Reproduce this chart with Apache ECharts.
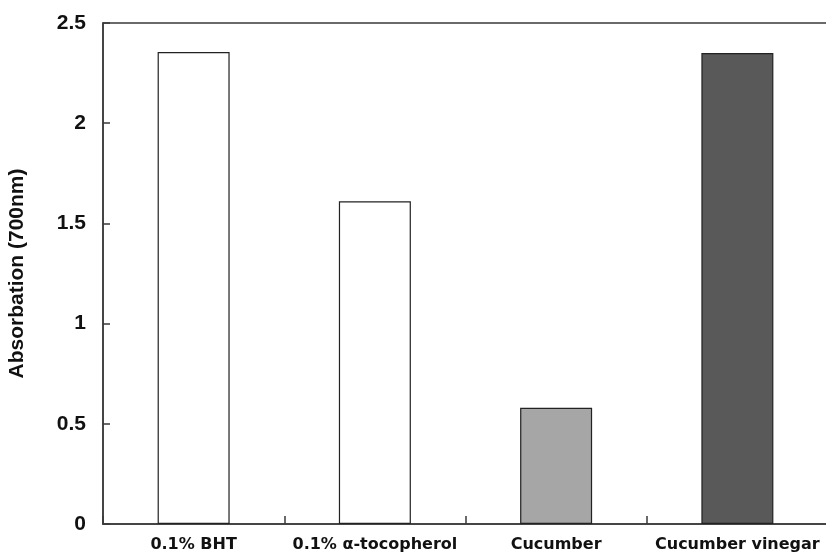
<!DOCTYPE html>
<html>
<head>
<meta charset="utf-8">
<script src="https://cdn.jsdelivr.net/npm/echarts@6/dist/echarts.min.js"></script>
<style>
    html, body { margin: 0; padding: 0; background: #fff; }
    #chart { width: 826px; height: 560px; }
</style>
</head>
<body>
<div id="chart"></div>
<script>
// data
const categories = ['0.1% BHT', '0.1% α-tocopherol', 'Cucumber', 'Cucumber vinegar'];
const absorbance = [2.355, 1.61, 0.58, 2.35];
const barColors = ['#ffffff', '#ffffff', '#a6a6a6', '#595959'];
const yTicks = [0, 0.5, 1, 1.5, 2, 2.5];

const axisColor = '#3a3a3a';

const chart = echarts.init(document.getElementById('chart'));

const option = {
    animation: false,
    backgroundColor: '#fff',
    grid: {
        left: 103,
        right: -2,
        top: 23,
        bottom: 36,
        show: true,
        borderColor: axisColor,
        borderWidth: 1.5,
        outerBoundsMode: 'none'
    },
    xAxis: {
        type: 'category',
        data: categories,
        axisLine: { lineStyle: { color: axisColor, width: 1.5 } },
        axisTick: { show: true, inside: true, length: 8, lineStyle: { color: axisColor, width: 1.5 } },
        axisLabel: {
            color: '#111',
            fontFamily: 'DejaVu Sans',
            fontWeight: 'bold',
            fontSize: 16,
            margin: 13,
            interval: 0
        },
        splitLine: { show: false }
    },
    yAxis: {
        type: 'value',
        min: yTicks[0],
        max: yTicks[yTicks.length - 1],
        interval: 0.5,
        name: 'Absorbation (700nm)',
        nameLocation: 'middle',
        nameGap: 75,
        nameTextStyle: {
            color: '#111',
            fontFamily: 'Liberation Sans, Arial',
            fontWeight: 'bold',
            fontSize: 21
        },
        axisLine: { show: true, lineStyle: { color: axisColor, width: 1.5 } },
        axisTick: { show: true, inside: true, length: 7, lineStyle: { color: axisColor, width: 1.5 } },
        axisLabel: {
            color: '#111',
            fontFamily: 'Liberation Sans, Arial',
            fontWeight: 'bold',
            fontSize: 21,
            margin: 17
        },
        splitLine: { show: false }
    },
    series: [
        {
            type: 'bar',
            barWidth: 72,
            data: absorbance.map((v, i) => ({
                value: v,
                itemStyle: { color: barColors[i] }
            })),
            itemStyle: {
                borderColor: '#222',
                borderWidth: 1.2
            }
        }
    ]
};

chart.setOption(option);
</script>
</body>
</html>
